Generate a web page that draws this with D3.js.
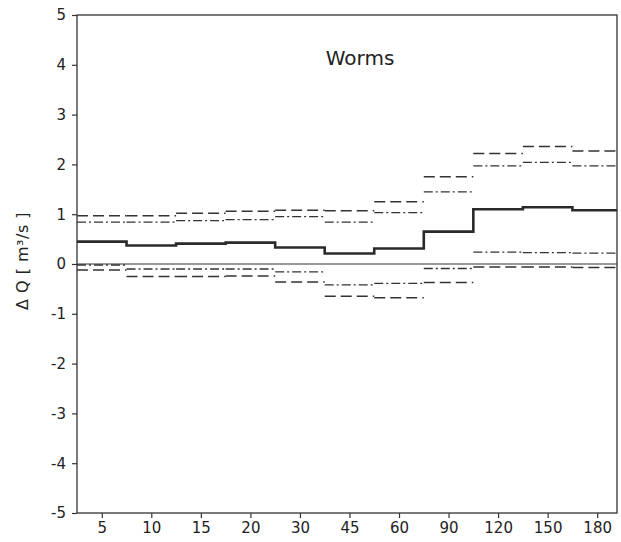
<!DOCTYPE html>
<html>
<head>
<meta charset="utf-8">
<script src="https://cdn.jsdelivr.net/npm/d3@7"></script>
<style>
  body { margin: 0; background: #fff; }
  text { font-family: "DejaVu Sans", "Liberation Sans", sans-serif; fill: #222; }
</style>
</head>
<body>
<div id="chart"></div>
<script>
// durations (x categories)
var categories = ["5", "10", "15", "20", "30", "45", "60", "90", "120", "150", "180"];
// mean change (solid)
var meanValues  = [0.45, 0.37, 0.41, 0.43, 0.33, 0.21, 0.31, 0.65, 1.10, 1.14, 1.08];
// outer band (dashed)
var upperDashed = [0.97, 0.97, 1.02, 1.06, 1.08, 1.07, 1.25, 1.75, 2.22, 2.36, 2.27];
var lowerDashed = [-0.12, -0.25, -0.25, -0.24, -0.36, -0.65, -0.68, -0.37, -0.06, -0.06, -0.07];
// inner band (dash-dot)
var upperDashDot = [0.84, 0.84, 0.87, 0.89, 0.95, 0.84, 1.03, 1.45, 1.97, 2.04, 1.97];
var lowerDashDot = [-0.02, -0.10, -0.10, -0.10, -0.16, -0.42, -0.39, -0.09, 0.24, 0.23, 0.22];
var yTicks = [-5, -4, -3, -2, -1, 0, 1, 2, 3, 4, 5];

var width = 621, height = 542;
var mLeft = 77, mRight = 617, mTop = 15, mBottom = 513;

var svg = d3.select('#chart').append('svg')
    .attr('width', width)
    .attr('height', height);

// index scale: each category is one step, centred on its tick
var x = d3.scaleLinear().domain([-0.5, 10.4]).range([mLeft, mRight]);
var y = d3.scaleLinear().domain([-5, 5]).range([mBottom, mTop]);

function x0(i) { return Math.max(mLeft, x(i - 0.5)); }
function x1(i) { return Math.min(mRight, x(i + 0.5)); }

// y axis
var yAxis = svg.append('g')
    .attr('transform', 'translate(' + mLeft + ',0)')
    .call(d3.axisLeft(y).tickValues(yTicks).tickSize(5).tickPadding(6)
        .tickFormat(function (d) { return String(d); }));
yAxis.select('.domain').remove();
yAxis.selectAll('line').attr('stroke', '#333').attr('stroke-width', 1.2);
yAxis.selectAll('text').style('font-size', '15px').attr('fill', '#222');

// x axis
var xAxis = svg.append('g')
    .attr('transform', 'translate(0,' + mBottom + ')')
    .call(d3.axisBottom(x).tickValues(d3.range(categories.length)).tickSize(5).tickPadding(4)
        .tickFormat(function (i) { return categories[i]; }));
xAxis.select('.domain').remove();
xAxis.selectAll('line').attr('stroke', '#333').attr('stroke-width', 1.2);
xAxis.selectAll('text').style('font-size', '15px').attr('fill', '#222');

// frame
svg.append('rect')
    .attr('x', mLeft).attr('y', mTop)
    .attr('width', mRight - mLeft).attr('height', mBottom - mTop)
    .attr('fill', 'none').attr('stroke', '#333').attr('stroke-width', 1.3);

// zero line
svg.append('line')
    .attr('x1', mLeft).attr('x2', mRight)
    .attr('y1', y(0)).attr('y2', y(0))
    .attr('stroke', '#333').attr('stroke-width', 1);

// band segments (no vertical joins)
function segments(values, dash, w) {
    svg.append('g').selectAll('line')
        .data(values)
        .enter()
        .append('line')
        .attr('x1', function (d, i) { return x0(i); })
        .attr('x2', function (d, i) { return x1(i); })
        .attr('y1', function (d) { return y(d); })
        .attr('y2', function (d) { return y(d); })
        .attr('stroke', '#333')
        .attr('stroke-width', w)
        .attr('stroke-dasharray', dash);
}
segments(upperDashed, '11,5', 1.5);
segments(lowerDashed, '11,5', 1.5);
segments(upperDashDot, '9,3,2,3', 1.3);
segments(lowerDashDot, '9,3,2,3', 1.3);

// mean as a step line
var pts = [];
meanValues.forEach(function (d, i) {
    pts.push([x0(i), y(d)]);
    pts.push([x1(i), y(d)]);
});
svg.append('path')
    .attr('d', d3.line()(pts))
    .attr('fill', 'none')
    .attr('stroke', '#2a2a2a')
    .attr('stroke-width', 2.6);

// title
svg.append('text')
    .attr('x', 360).attr('y', 65)
    .attr('text-anchor', 'middle')
    .style('font-size', '20px')
    .text('Worms');

// y label
svg.append('text')
    .attr('transform', 'translate(28,' + 261 + ') rotate(-90)')
    .attr('text-anchor', 'middle')
    .style('font-size', '16px')
    .style('letter-spacing', '0.5px')
    .text('\u0394 Q  [ m\u00b3/s ]');
</script>
</body>
</html>
